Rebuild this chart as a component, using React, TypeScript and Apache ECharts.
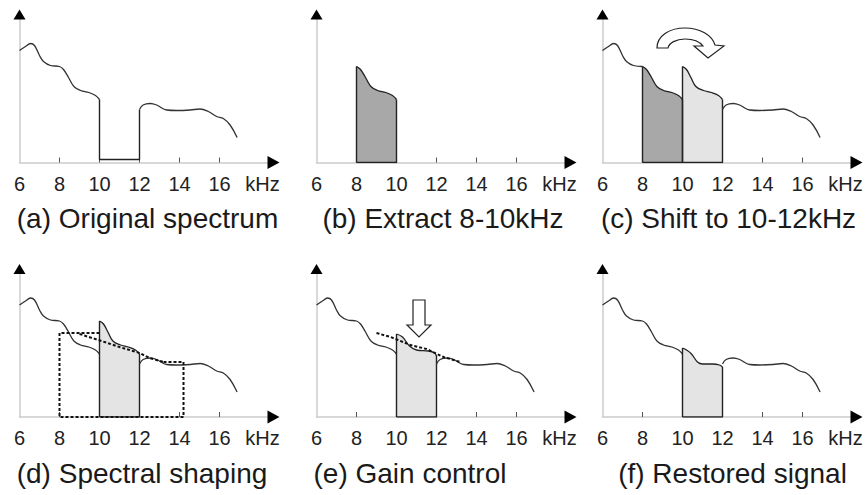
import React, { useEffect, useRef } from 'react';
import * as echarts from 'echarts';

// ---------- data (kHz, relative amplitude) ----------
const TICK_VALUES = [8, 10, 12, 14, 16];
const LABEL_VALUES = [6, 8, 10, 12, 14, 16, 18.15];
const UNIT_LABEL = 'kHz';
const CAPTIONS = [
  '(a) Original spectrum',
  '(b) Extract 8-10kHz',
  '(c) Shift to 10-12kHz',
  '(d) Spectral shaping',
  '(e) Gain control',
  '(f) Restored signal',
];

const SPEC_6_8 = [
  [6.0, 112], [6.3, 116], [6.55, 119], [6.75, 117], [7.0, 107], [7.2, 101], [7.55, 97], [8.0, 96],
];
const SPEC_8_10 = [
  [8.0, 96], [8.2, 93], [8.45, 85], [8.72, 76], [9.05, 72], [9.47, 70], [9.8, 67], [10.0, 63],
];
const SPEC_12_17 = [
  [12.0, 53], [12.18, 57.5], [12.53, 59], [12.86, 57.5], [13.36, 52.5], [13.86, 52], [14.53, 52.5],
  [15.03, 53.5], [15.44, 51], [15.86, 46], [16.19, 44], [16.53, 37.5], [16.88, 25],
];
const GAP_LEVEL = 3;
const SHIFT_BAND = [
  [10.0, 96], [10.2, 93], [10.42, 85], [10.67, 76], [11.05, 72], [11.45, 70], [11.8, 67], [12.0, 63],
];
const GAIN_BAND = [
  [10.0, 83], [10.3, 80], [10.65, 71], [11.0, 67], [11.6, 66], [11.9, 64], [12.0, 61],
];
const RESTORED_BAND = [
  [10.0, 69], [10.2, 67], [10.45, 63], [10.75, 55], [11.0, 53], [11.5, 53], [11.85, 52], [12.0, 50],
];
const SHAPING_BOX = [[10, 84], [8, 84], [8, 0], [14.2, 0], [14.2, 55], [13.2, 55]];
const SHAPING_ENVELOPE = [[9.0, 83], [10.1, 76], [11.0, 70], [12.0, 64], [12.5, 59], [13.2, 55]];
const GAIN_TARGET = [[9.0, 84], [9.7, 80], [10.7, 72], [11.5, 68], [12.35, 60], [13.2, 55]];

// ---------- layout / style ----------
const PANEL_LEFT = [19.5, 316.5, 602.5, 19.5, 316.5, 602.5];
const PANEL_TOP = [14.5, 14.5, 14.5, 269, 269, 269];
const PANEL_W = 254;
const PANEL_H = 148;
const X_MIN = 6;
const X_MAX = 18.7;
const Y_MAX = 148;
const CAPTION_X = [147.5, 443, 728.5, 142, 410, 732.5];
const CAPTION_Y = [218, 218, 218, 473, 473, 473];
const FONT = '"Liberation Sans", Arial, Helvetica, sans-serif';
const LINE = '#333';
const EDGE = '#222';
const AXIS_GRAY = '#cccccc';
const DARK_FILL = '#a8a8a8';
const LIGHT_FILL = '#e4e4e4';

const CURVED_ARROW_D =
  'M657,48 C657,36 669,28 685,28 C700,28 712,35 715,45 L724,46 L708,58 L694,46 L703,46 C700,42 693,39 685,39 C676,39 669,43 668,48 Z';
const DOWN_ARROW_PTS = [[413, 300], [425, 300], [425, 325], [431, 325], [419, 337], [407, 325], [413, 325]];

type Pt = number[];

const ax = (p: number) => ({ xAxisIndex: 2 * p, yAxisIndex: 2 * p });

function curve(p: number, data: Pt[]) {
  return {
    type: 'line', ...ax(p), data, smooth: 0.4, symbol: 'none', silent: true,
    lineStyle: { color: LINE, width: 1.3 }, z: 3,
  };
}
function poly(p: number, data: Pt[]) {
  return {
    type: 'line', ...ax(p), data, smooth: false, symbol: 'none', silent: true,
    lineStyle: { color: EDGE, width: 1.4 }, z: 3,
  };
}
function dashed(p: number, data: Pt[]) {
  return {
    type: 'line', ...ax(p), data, smooth: false, symbol: 'none', silent: true,
    lineStyle: { color: '#111', width: 2, type: [3, 2] }, z: 4,
  };
}
function band(p: number, data: Pt[], color: string) {
  const first = data[0];
  const last = data[data.length - 1];
  return [
    {
      type: 'line', ...ax(p), data, smooth: 0.4, symbol: 'none', silent: true,
      lineStyle: { color: EDGE, width: 1.3 }, areaStyle: { color, opacity: 1 }, z: 2,
    },
    poly(p, [[first[0], 0], first]),
    poly(p, [last, [last[0], 0], [first[0], 0]]),
  ];
}

const SPEC_6_10 = [...SPEC_6_8, ...SPEC_8_10.slice(1)];

function buildOption() {
  const grid: any[] = [];
  const xAxis: any[] = [];
  const yAxis: any[] = [];
  for (let p = 0; p < 6; p++) {
    grid.push({ left: PANEL_LEFT[p], top: PANEL_TOP[p], width: PANEL_W, height: PANEL_H, containLabel: false, outerBoundsMode: 'none' });
    xAxis.push({
      type: 'value', gridIndex: p, position: 'bottom', min: X_MIN, max: X_MAX,
      axisLine: { show: true, onZero: false, lineStyle: { color: AXIS_GRAY, width: 1.5 } },
      axisTick: { show: true, inside: true, length: 5, customValues: TICK_VALUES, lineStyle: { color: '#555', width: 1 } },
      axisLabel: {
        show: true, customValues: LABEL_VALUES,
        formatter: (v: number) => (v > 17 ? UNIT_LABEL : String(v)),
        fontSize: 20, fontFamily: FONT, color: '#222', margin: 11,
      },
      splitLine: { show: false },
    });
    xAxis.push({
      type: 'value', gridIndex: p, position: 'bottom', min: X_MIN, max: X_MAX,
      axisLine: { show: true, onZero: false, symbol: ['none', 'triangle'], symbolSize: [13, 12], lineStyle: { color: '#000', width: 0 } },
      axisTick: { show: false }, axisLabel: { show: false }, splitLine: { show: false },
    });
    yAxis.push({
      type: 'value', gridIndex: p, position: 'left', min: 0, max: Y_MAX,
      axisLine: { show: true, onZero: false, lineStyle: { color: AXIS_GRAY, width: 1.5 } },
      axisTick: { show: false }, axisLabel: { show: false }, splitLine: { show: false },
    });
    yAxis.push({
      type: 'value', gridIndex: p, position: 'left', min: 0, max: Y_MAX,
      axisLine: { show: true, onZero: false, symbol: ['none', 'triangle'], symbolSize: [12, 10], lineStyle: { color: '#000', width: 0 } },
      axisTick: { show: false }, axisLabel: { show: false }, splitLine: { show: false },
    });
  }

  const series: any[] = [];
  // (a)
  series.push(curve(0, SPEC_6_10));
  series.push(poly(0, [SPEC_8_10[SPEC_8_10.length - 1], [10, GAP_LEVEL], [12, GAP_LEVEL], SPEC_12_17[0]]));
  series.push(curve(0, SPEC_12_17));
  // (b)
  series.push(...band(1, SPEC_8_10, DARK_FILL));
  // (c)
  series.push(curve(2, SPEC_6_8));
  series.push(...band(2, SPEC_8_10, DARK_FILL));
  series.push(...band(2, SHIFT_BAND, LIGHT_FILL));
  series.push(curve(2, SPEC_12_17));
  // (d)
  series.push(curve(3, SPEC_6_10));
  series.push(...band(3, SHIFT_BAND, LIGHT_FILL));
  series.push(curve(3, SPEC_12_17));
  series.push(dashed(3, SHAPING_BOX));
  series.push(dashed(3, SHAPING_ENVELOPE));
  // (e)
  series.push(curve(4, SPEC_6_10));
  series.push(...band(4, GAIN_BAND, LIGHT_FILL));
  series.push(curve(4, SPEC_12_17));
  series.push(dashed(4, GAIN_TARGET));
  // (f)
  series.push(curve(5, SPEC_6_10));
  series.push(...band(5, RESTORED_BAND, LIGHT_FILL));
  series.push(curve(5, SPEC_12_17));

  const graphic: any[] = [
    { type: 'curvedArrow', x: 0, y: 0, silent: true, style: { fill: '#fff', stroke: '#222', lineWidth: 1.2 }, z: 10 },
    { type: 'polygon', silent: true, shape: { points: DOWN_ARROW_PTS }, style: { fill: '#fff', stroke: '#222', lineWidth: 1.2 }, z: 10 },
  ];
  CAPTIONS.forEach((t, i) => {
    graphic.push({
      type: 'text', x: CAPTION_X[i], y: CAPTION_Y[i], silent: true,
      style: {
        text: t, fontSize: 28, fontFamily: FONT, fill: '#1a1a1a',
        align: 'center', verticalAlign: 'middle', textAlign: 'center', textVerticalAlign: 'middle',
      },
    });
  });

  return {
    animation: false,
    backgroundColor: '#fff',
    grid, xAxis, yAxis, series, graphic,
  };
}

export default function App() {
  const ref = useRef<HTMLDivElement>(null);
  useEffect(() => {
    if (!ref.current) return;
    echarts.graphic.registerShape('curvedArrow', echarts.graphic.extendPath(CURVED_ARROW_D, {}) as any);
    const chart = echarts.init(ref.current, undefined, { renderer: 'svg' });
    chart.setOption(buildOption() as any);
    return () => chart.dispose();
  }, []);
  return (
    <div
      ref={ref}
      style={{ position: 'absolute', left: 0, top: 0, width: 866, height: 495, background: '#fff' }}
    />
  );
}
